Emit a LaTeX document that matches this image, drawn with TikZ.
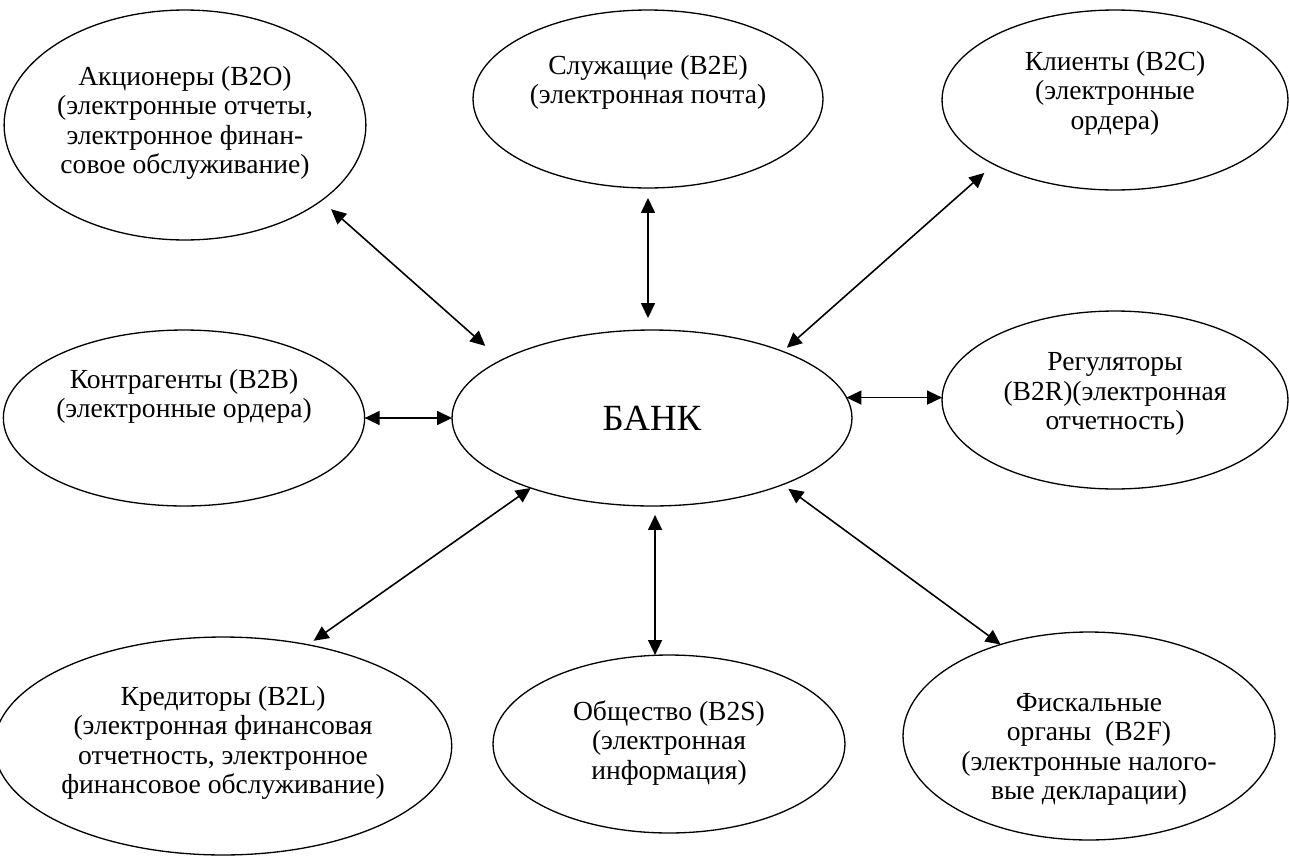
\documentclass[tikz,border=0pt]{standalone}
\usepackage{fontspec}
\setmainfont{Liberation Serif}
\usetikzlibrary{arrows.meta,shapes.geometric}

\begin{document}
\begin{tikzpicture}[x=0.02cm, y=-0.02cm,
    oval/.style={ellipse, draw, line width=0.75pt, inner sep=0pt, outer sep=0pt,
        align=center, font=\fontsize{15.7pt}{16.8pt}\selectfont},
    lines/.style={text depth=#1},
    link/.style={{Triangle[length=3mm,width=2.8mm]}-{Triangle[length=3mm,width=2.8mm]}, line width=0.9pt}]
    \useasboundingbox (0,0) rectangle (1289,856); % 画布大小

    % 中心：银行
    \node[oval, minimum width=8cm, minimum height=3.52cm,
        font=\fontsize{21pt}{23pt}\selectfont] (bank) at (652,418) {БАНК};

    % 上排
    \node[oval, lines=0.2cm, minimum width=7cm, minimum height=4.6cm] (akc) at (185,125)
        {Акционеры (B2O)\\(электронные отчеты,\\электронное финан-\\совое обслуживание)};
    \node[oval, lines=0.78cm, minimum width=7cm, minimum height=3.56cm] (slu) at (648,99)
        {Служащие (B2E)\\(электронная почта)};
    \node[oval, lines=0.4cm, minimum width=6.92cm, minimum height=3.6cm] (kli) at (1115,100)
        {Клиенты (B2C)\\(электронные\\ордера)};

    % 中排
    \node[oval, lines=0.98cm, minimum width=6.96cm, minimum height=3.52cm] (kon) at (184,418)
        {Контрагенты (B2B)\\(электронные ордера)};
    \node[oval, lines=0.36cm, minimum width=6.92cm, minimum height=3.56cm] (reg) at (1115,400)
        {Регуляторы\\(B2R)(электронная\\отчетность)};

    % 下排
    \node[oval, lines=0.24cm, minimum width=8.52cm, minimum height=4.36cm] (cre) at (223,746)
        {Кредиторы (B2L)\\(электронная финансовая\\отчетность, электронное\\финансовое обслуживание)};
    \node[oval, lines=0.16cm, minimum width=7.04cm, minimum height=3.56cm] (obs) at (669,744)
        {Общество (B2S)\\(электронная\\информация)};
    \node[oval, text height=2.66cm, minimum width=7.44cm, minimum height=4.16cm] (fis) at (1089,736)
        {Фискальные\\органы~~(B2F)\\(электронные налого-\\вые декларации)};

    % 双向箭头
    \draw[link, shorten <=0.26cm, shorten >=0.43cm] (akc.-29) -- (bank.159.7);
    \draw[link, shorten <=0.2cm, shorten >=0.24cm] (slu.south) -- (slu.south |- bank.north);
    \draw[link, shorten <=0.26cm, shorten >=0.11cm] (kli.-152.6) -- (bank.27.6);
    \draw[link] (kon) -- (bank);
    \draw[link] (bank.6) -- (bank.6 -| reg.west);
    \draw[link, shorten <=0.14cm] (cre.50.5) -- (bank.-150.2);
    \draw[link, shorten <=0.18cm] (bank.-88) -- (bank.-88 |- obs.north);
    \draw[link, shorten >=0.14cm] (fis.134.4) -- (bank.-27.4);
\end{tikzpicture}
\end{document}
